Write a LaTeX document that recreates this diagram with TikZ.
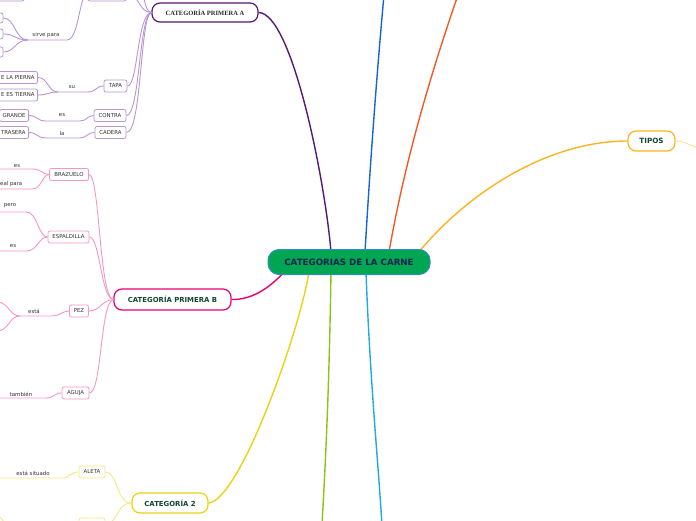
\documentclass[tikz,border=0pt]{standalone}
\usepackage{fontspec}
\setmainfont{DejaVu Sans}
\newfontfamily\serifbf{Liberation Serif}
\definecolor{cpurple}{RGB}{85,25,115}
\definecolor{lpurple}{RGB}{185,150,210}
\definecolor{cpink}{RGB}{232,0,110}
\definecolor{lpink}{RGB}{247,150,195}
\definecolor{cgold}{RGB}{235,210,20}
\definecolor{lgold}{RGB}{248,230,130}
\definecolor{corange}{RGB}{252,180,30}
\definecolor{lorange}{RGB}{253,225,150}
\definecolor{cgreen}{RGB}{0,166,81}
\definecolor{cborder}{RGB}{50,140,200}
\definecolor{cnavy}{RGB}{20,35,80}
\definecolor{cblue}{RGB}{20,100,220}
\definecolor{cred}{RGB}{240,90,40}
\definecolor{clime}{RGB}{140,195,20}
\definecolor{ccyan}{RGB}{30,170,230}
\definecolor{ctext}{RGB}{20,70,50}
\definecolor{ltext}{RGB}{50,50,50}
\newcommand\leaffont{\fontsize{5.4}{6}\selectfont}
\newcommand\topicfont{\fontsize{6.9}{8}\selectfont\bfseries}
\begin{document}
\begin{tikzpicture}[x=1pt,y=-1pt,
  topic/.style={draw=#1, line width=1.2pt, rounded corners=8pt, fill=white, inner sep=0pt, font=\topicfont, text=ctext},
  leaf/.style={draw=#1, line width=0.8pt, rounded corners=2pt, fill=white, minimum height=12pt, inner sep=0pt, font=\leaffont, text=ltext},
  eleaf/.style={leaf=#1, anchor=east, inner xsep=3pt},
  lbl/.style={inner sep=0pt, font=\leaffont, text=ltext},
  mainline/.style={line width=1.4pt},
  subline/.style={draw=#1, line width=0.9pt}]
\useasboundingbox (0,0) rectangle (696,520);
\clip (0,0) rectangle (696,520);

% ---------- main branches ----------
\coordinate (cb1) at (384,-5);
\coordinate (cr1) at (458,-5);
\coordinate (cl1) at (322,525);
\coordinate (cc1) at (382,525);
\coordinate (tc) at (700,148);

\node[topic=cpurple, minimum width=106pt, minimum height=19pt, font=\serifbf\fontsize{6.5}{7}\selectfont\bfseries, text=black!85] (pa) at (205,12.5) {CATEGORÍA PRIMERA A};
\node[topic=cpink, minimum width=117pt, minimum height=21pt] (pb) at (172.5,299.5) {CATEGORÍA PRIMERA B};
\node[topic=cgold, minimum width=76pt, minimum height=20pt] (c2) at (170,503) {CATEGORÍA 2};
\node[topic=corange, minimum width=47pt, minimum height=20pt, font=\fontsize{7.2}{8}\selectfont\bfseries] (tipos) at (651.5,141) {TIPOS};

\draw[cpurple, mainline] (331,252) .. controls (325,180) and (292,13) .. (pa.east);
\draw[cblue, mainline] (365,252) .. controls (371,150) and (378,60) .. (cb1);
\draw[cred, mainline] (389,252) .. controls (405,160) and (432,70) .. (cr1);
\draw[corange, mainline] (418,253) .. controls (470,190) and (550,141) .. (tipos.west);
\draw[cpink, mainline] (285,271) .. controls (268,290) and (250,300) .. (pb.east);
\draw[cgold, mainline] (309,272) .. controls (300,330) and (240,500) .. (c2.east);
\draw[clime, mainline] (331,272) .. controls (329,400) and (325,470) .. (cl1);
\draw[ccyan, mainline] (366,272) .. controls (370,380) and (378,460) .. (cc1);
\draw[lorange, line width=0.9pt] (tipos.east) .. controls (685,141) and (690,146) .. (tc);

\node[draw=cborder, line width=1pt, fill=cgreen, rounded corners=11pt, minimum width=162pt, minimum height=25pt, inner sep=0pt, font=\fontsize{8.7}{10}\selectfont\bfseries, text=cnavy] (root) at (349,262) {CATEGORIAS DE LA CARNE};

% ---------- CATEGORIA PRIMERA A ----------
\node[leaf=lpurple, minimum width=38pt, minimum height=14pt] (a0) at (107,-6) {};
\node[leaf=lpurple, minimum width=38pt, minimum height=14pt] (aa) at (107,-40) {};
\node[leaf=lpurple, minimum width=32pt, minimum height=14pt] (a00) at (8,-6) {};
\node[leaf=lpurple, minimum width=23pt] (tapa) at (115.5,86) {TAPA};
\node[leaf=lpurple, minimum width=32pt] (contra) at (110,115.5) {CONTRA};
\node[leaf=lpurple, minimum width=31pt] (cadera) at (110.5,132.5) {CADERA};
\node[leaf=lpurple, minimum width=26pt, minimum height=10pt] (s1) at (-10,18) {};
\node[leaf=lpurple, minimum width=26pt, minimum height=10pt] (s2) at (-10,34) {};
\node[leaf=lpurple, minimum width=26pt, minimum height=10pt] (s3) at (-10,52) {};
\node[eleaf=lpurple] (pierna) at (38,77.5) {E LA PIERNA};
\node[eleaf=lpurple] (tierna) at (38,95) {E ES TIERNA};
\node[eleaf=lpurple] (grande) at (29,115.5) {GRANDE};
\node[eleaf=lpurple] (trasera) at (29,132.5) {TRASERA};

\draw[subline=lpurple] (a0.east) .. controls (140,-6) and (138,12) .. (pa.west);
\draw[subline=lpurple] (aa.east) .. controls (145,-40) and (140,12) .. (pa.west);
\draw[subline=lpurple] (tapa.east) .. controls (138,86) and (137,14) .. (pa.west);
\draw[subline=lpurple] (contra.east) .. controls (140,115.5) and (139,14) .. (pa.west);
\draw[subline=lpurple] (cadera.east) .. controls (142,132.5) and (140,14) .. (pa.west);

\coordinate (sp1) at (67,40); \coordinate (sp2) at (28,40);
\node[lbl] (lsp) at (46,35) {sirve para};
\draw[subline=lpurple] (a0.west) .. controls (79,-6) and (79,40) .. (sp1) -- (sp2);
\draw[subline=lpurple] (sp2) .. controls (15,40) and (15,18) .. (s1.east);
\draw[subline=lpurple] (sp2) .. controls (15,40) and (15,34) .. (s2.east);
\draw[subline=lpurple] (sp2) .. controls (15,40) and (15,52) .. (s3.east);

\coordinate (su1) at (88,92); \coordinate (su2) at (58,92);
\node[lbl] (lsu) at (72,87) {su};
\draw[subline=lpurple] (tapa.west) .. controls (96,86) and (96,92) .. (su1) -- (su2);
\draw[subline=lpurple] (su2) .. controls (48,92) and (48,77.5) .. (pierna.east);
\draw[subline=lpurple] (su2) .. controls (48,92) and (48,95) .. (tierna.east);

\coordinate (es1) at (80,121); \coordinate (es2) at (46,121);
\node[lbl] (les) at (62,115.5) {es};
\draw[subline=lpurple] (contra.west) .. controls (87,115.5) and (87,121) .. (es1) -- (es2) .. controls (37,121) and (37,115.5) .. (grande.east);

\coordinate (la1) at (80,138); \coordinate (la2) at (46,138);
\node[lbl] (lla) at (62,133) {la};
\draw[subline=lpurple] (cadera.west) .. controls (87,132.5) and (87,138) .. (la1) -- (la2) .. controls (37,138) and (37,132.5) .. (trasera.east);

% ---------- CATEGORIA PRIMERA B ----------
\node[leaf=lpink, minimum width=39pt] (brazuelo) at (69,174.5) {BRAZUELO};
\node[leaf=lpink, minimum width=41pt] (espaldilla) at (68.5,237) {ESPALDILLA};
\node[leaf=lpink, minimum width=19pt] (pez) at (79,311) {PEZ};
\node[leaf=lpink, minimum width=27pt] (aguja) at (75.5,393) {AGUJA};

\draw[subline=lpink] (brazuelo.east) .. controls (100,174.5) and (99,298) .. (pb.west);
\draw[subline=lpink] (espaldilla.east) .. controls (100,237) and (101,299) .. (pb.west);
\draw[subline=lpink] (pez.east) .. controls (100,311) and (102,300) .. (pb.west);
\draw[subline=lpink] (aguja.east) .. controls (102,393) and (100,302) .. (pb.west);

\coordinate (b1a) at (32,169); \coordinate (b1b) at (-5,169);
\node[lbl] (lb1) at (17,166) {es};
\draw[subline=lpink] (brazuelo.west) .. controls (42,174.5) and (42,169) .. (b1a) -- (b1b);
\coordinate (b2a) at (32,189); \coordinate (b2b) at (-5,189);
\node[lbl, anchor=east] (lb2) at (22.5,184) {eal para};
\draw[subline=lpink] (brazuelo.west) .. controls (42,174.5) and (42,189) .. (b2a) -- (b2b);

\coordinate (e1a) at (26,212); \coordinate (e1b) at (-5,212);
\node[lbl] (le1) at (10,206) {pero};
\draw[subline=lpink] (espaldilla.west) .. controls (38,237) and (38,212) .. (e1a) -- (e1b);
\coordinate (e2a) at (26,251); \coordinate (e2b) at (-5,251);
\node[lbl] (le2) at (13,246.5) {es};
\draw[subline=lpink] (espaldilla.west) .. controls (38,237) and (38,251) .. (e2a) -- (e2b);

\coordinate (p1) at (52,316); \coordinate (p2) at (20,316);
\coordinate (pu) at (-3,302); \coordinate (pd) at (-3,331);
\node[lbl] (lp) at (34,311) {está};
\draw[subline=lpink] (pez.west) .. controls (62,311) and (60,316) .. (p1) -- (p2);
\draw[subline=lpink] (p2) .. controls (9,316) and (9,302) .. (pu);
\draw[subline=lpink] (p2) .. controls (9,316) and (9,331) .. (pd);

\coordinate (ag1) at (46,398); \coordinate (ag2) at (-5,398);
\node[lbl] (lag) at (21,394) {también};
\draw[subline=lpink] (aguja.west) .. controls (54,393) and (54,398) .. (ag1) -- (ag2);

% ---------- CATEGORIA 2 ----------
\node[leaf=lgold, minimum width=26pt] (aleta) at (92,472) {ALETA};
\node[leaf=lgold, minimum width=26pt] (bot) at (92,524) {};
\draw[subline=lgold] (aleta.east) .. controls (118,472) and (116,503) .. (c2.west);
\draw[subline=lgold] (bot.east) .. controls (118,524) and (116,503) .. (c2.west);

\coordinate (al1) at (62,478); \coordinate (al2) at (-5,478);
\node[lbl] (lal) at (33,473) {está situado};
\draw[subline=lgold] (aleta.west) .. controls (70,472) and (70,478) .. (al1) -- (al2);

\coordinate (bl1) at (45,531); \coordinate (bl2) at (15,531); \coordinate (bl3) at (-5,516);
\draw[subline=lgold] (bot.west) .. controls (70,524) and (60,531) .. (bl1) -- (bl2) .. controls (5,531) and (5,516) .. (bl3);
\end{tikzpicture}
\end{document}
